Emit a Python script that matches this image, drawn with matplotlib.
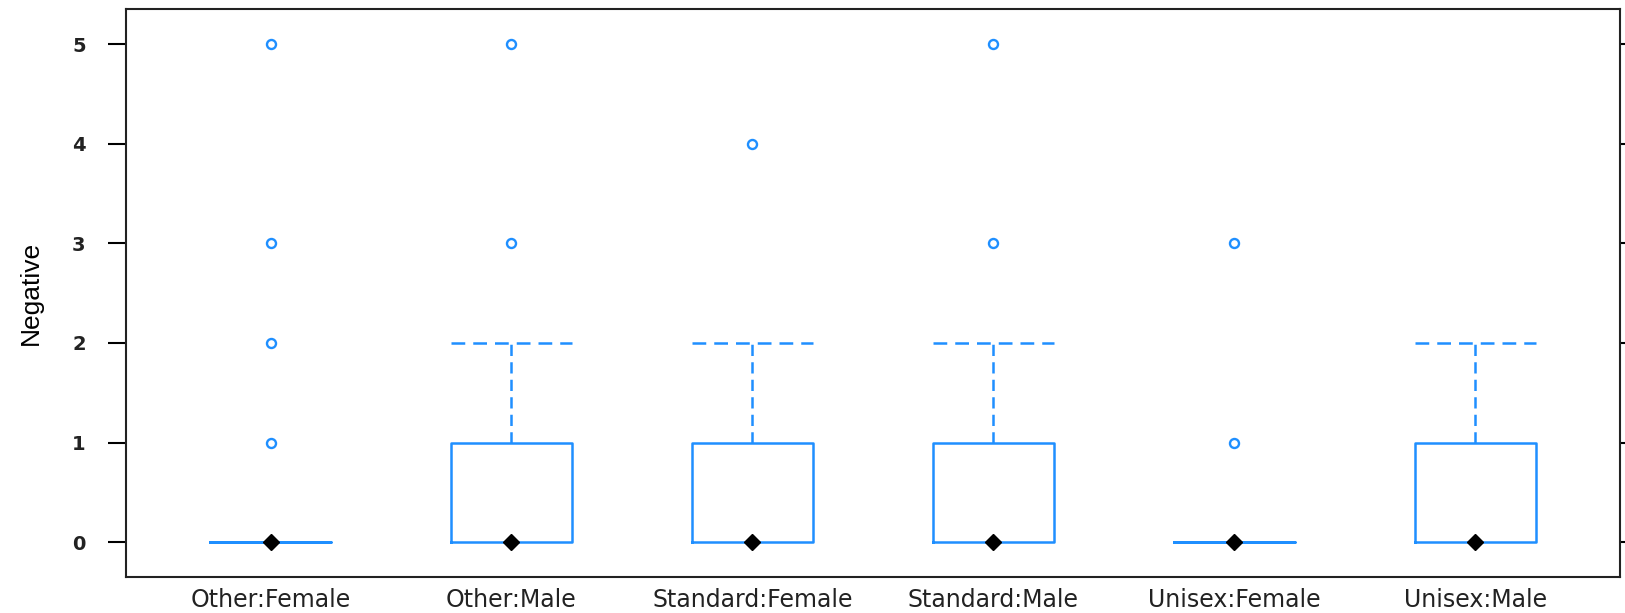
import matplotlib.pyplot as plt

# box summaries per group
groups = ['Other:Female', 'Other:Male', 'Standard:Female', 'Standard:Male',
          'Unisex:Female', 'Unisex:Male']
lower_whisk = [0, 0, 0, 0, 0, 0]
q1 = [0, 0, 0, 0, 0, 0]
medians = [0, 0, 0, 0, 0, 0]
q3 = [0, 1, 1, 1, 0, 1]
upper_whisk = [0, 2, 2, 2, 0, 2]
outliers = [[1, 2, 3, 5], [3, 5], [4], [3, 5], [1, 3], []]

blue = '#1f8fff'

stats = []
for i, g in enumerate(groups):
    stats.append(dict(label=g, whislo=lower_whisk[i], q1=q1[i], med=medians[i],
                      q3=q3[i], whishi=upper_whisk[i], fliers=outliers[i]))

fig = plt.figure(figsize=(16.25, 6.13), dpi=100)
ax = fig.add_axes([0.0775, 0.0587, 0.9194, 0.9261])

pos = list(range(1, len(groups) + 1))
parts = ax.bxp(stats, positions=pos, widths=0.5,
               boxprops=dict(color=blue, lw=1.8),
               whiskerprops=dict(color=blue, lw=1.8, linestyle=(0, (4.5, 2.5))),
               capprops=dict(color=blue, lw=1.8, linestyle=(0, (5.5, 3.2))),
               capwidths=0.5,
               medianprops=dict(linestyle='none'),
               flierprops=dict(marker='o', markersize=6.5, markerfacecolor='none',
                               markeredgecolor=blue, markeredgewidth=1.7))
# lower whiskers sit on the box bottom; hide them
for ln in parts['caps'][0::2] + parts['whiskers'][0::2]:
    ln.set_visible(False)
# flat boxes: drop the zero-length upper whisker/cap too
for i in range(len(groups)):
    if upper_whisk[i] == q3[i]:
        parts['caps'][2 * i + 1].set_visible(False)
        parts['whiskers'][2 * i + 1].set_visible(False)
ax.plot(pos, medians, linestyle='none', marker='D', markersize=8.5,
        color='black', zorder=5)

ax.set_xlim(0.4, 6.6)
ax.set_ylim(-0.35, 5.35)
ax.set_yticks([0, 1, 2, 3, 4, 5])
ax.set_xticks(pos)
ax.set_xticklabels(groups, fontsize=17, family='DejaVu Sans', color='#222222')
ax.tick_params(axis='x', length=0, pad=8)
ax.tick_params(axis='y', length=13, width=1.5, labelsize=14, pad=16,
               right=True, labelcolor='#222222')
for lab in ax.get_yticklabels():
    lab.set_fontweight('bold')
for s in ax.spines.values():
    s.set_linewidth(1.5)
    s.set_color('#222222')

ax.set_ylabel('Negative', fontsize=19, family='Liberation Sans', labelpad=21)

fig.savefig('out.png', dpi=100)
